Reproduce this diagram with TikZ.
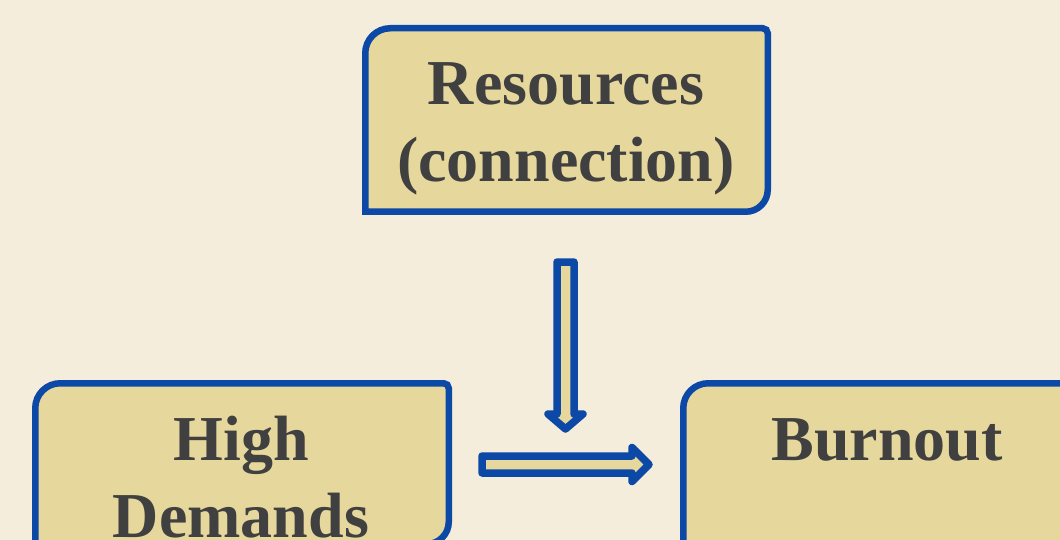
\documentclass[tikz,border=0pt]{standalone}
\usepackage{fontspec}
\setmainfont{Liberation Serif}
\definecolor{pagebg}{RGB}{244,237,219}
\definecolor{boxfill}{RGB}{230,215,157}
\definecolor{edgeblue}{RGB}{12,72,166}
\definecolor{inkgray}{RGB}{64,64,64}
\usetikzlibrary{calc}
\tikzset{
  boxarea/.style={rectangle, inner sep=0pt, outer sep=0pt},
  boxedge/.style={draw=edgeblue, fill=boxfill, line width=6.5pt},
  boxtext/.style={font=\fontsize{64}{77}\selectfont\bfseries, text=inkgray, align=center, inner sep=0pt, anchor=north},
  blockarrow/.style={draw=edgeblue, fill=boxfill, line width=7.5pt, line join=round}
}

\begin{document}
\begin{tikzpicture}[x=1pt, y=1pt]
  \fill[pagebg] (0,0) rectangle (1060,-540);
  \clip (0,0) rectangle (1060,-540);

  % Box areas
  \node[boxarea, minimum width=402.5pt, minimum height=183.5pt] (resbox) at (566.5,-120) {};
  \node[boxarea, minimum width=413.5pt, minimum height=160.75pt] (dembox) at (242,-463.625) {};
  \node[boxarea, minimum width=408.75pt, minimum height=160.75pt] (burnbox) at (887.625,-463.625) {};

  % Box outlines
  \draw[boxedge] (resbox.south west) -- ([yshift=-25pt]resbox.north west) arc[start angle=180, end angle=90, radius=25pt] -- ([xshift=-5pt]resbox.north east) arc[start angle=90, end angle=0, radius=5pt] -- ([yshift=22pt]resbox.south east) arc[start angle=0, end angle=-90, radius=22pt] -- cycle;
  \draw[boxedge] (dembox.south west) -- ([yshift=-25pt]dembox.north west) arc[start angle=180, end angle=90, radius=25pt] -- ([xshift=-5pt]dembox.north east) arc[start angle=90, end angle=0, radius=5pt] -- ([yshift=22pt]dembox.south east) arc[start angle=0, end angle=-90, radius=22pt] -- cycle;
  \draw[boxedge] (burnbox.south west) -- ([yshift=-25pt]burnbox.north west) arc[start angle=180, end angle=90, radius=25pt] -- ([xshift=-5pt]burnbox.north east) arc[start angle=90, end angle=0, radius=5pt] -- ([yshift=22pt]burnbox.south east) arc[start angle=0, end angle=-90, radius=22pt] -- cycle;

  % Labels
  \node[boxtext] (res) at (566,-62) {Resources\\(connection)};
  \node[boxtext] (dem) at (241,-416) {High\\Demands};
  \node[boxtext] (burn) at (887,-418) {Burnout};

  % Arrows
  \coordinate (dtail) at ([xshift=-1pt, yshift=-50.25pt]resbox.south);
  \coordinate (dtip) at ([xshift=-1pt, yshift=-217.25pt]resbox.south);
  \draw[blockarrow] ($(dtail)+(-8.5,0)$) -- ($(dtail)+(8.5,0)$) -- ($(dtip)+(8.5,15)$) -- ($(dtip)+(17.5,15)$) -- (dtip) -- ($(dtip)+(-17.5,15)$) -- ($(dtip)+(-8.5,15)$) -- cycle;

  \coordinate (htail) at ([xshift=33.25pt, yshift=-0.875pt]dembox.east);
  \coordinate (htip) at ([xshift=-34.25pt, yshift=-0.875pt]burnbox.west);
  \draw[blockarrow] ($(htail)+(0,8.5)$) -- ($(htip)+(-17,8.5)$) -- ($(htip)+(-17,17)$) -- (htip) -- ($(htip)+(-17,-17)$) -- ($(htip)+(-17,-8.5)$) -- ($(htail)+(0,-8.5)$) -- cycle;
\end{tikzpicture}
\end{document}
